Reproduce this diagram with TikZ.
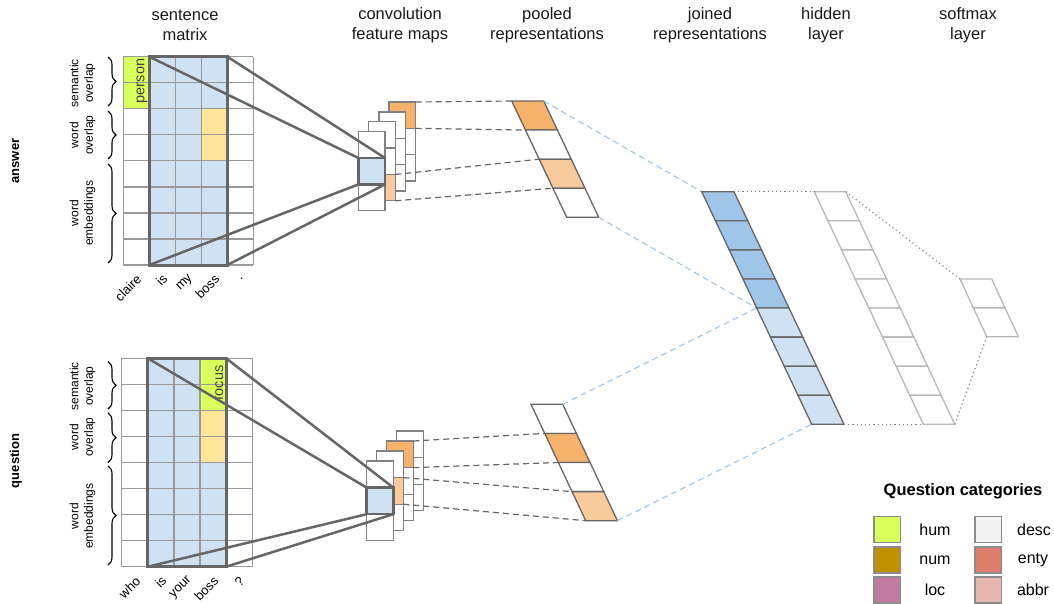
\documentclass[tikz,border=0pt]{standalone}
\usepackage{fontspec}
\setmainfont{Liberation Sans}
\usetikzlibrary{decorations.pathreplacing}

\definecolor{cellblue}{HTML}{CFE2F3}
\definecolor{deepblue}{HTML}{9FC5E8}
\definecolor{darkorange}{HTML}{F6B26B}
\definecolor{lightorange}{HTML}{F9CB9C}
\definecolor{paleyellow}{HTML}{FFE599}
\definecolor{limecell}{HTML}{D9FF5C}
\definecolor{numcol}{HTML}{BF9000}
\definecolor{loccol}{HTML}{C27BA0}
\definecolor{desccol}{HTML}{F3F3F3}
\definecolor{entycol}{HTML}{DD7E6B}
\definecolor{abbrcol}{HTML}{E6B8AF}

% slanted strip of cells: name, x0, y0, width, cell height, shift per cell, fills, style
\newcommand\slantstrip[8]{%
  \foreach \f [count=\i from 0] in {#7} {
    \pgfmathsetmacro\xa{#2+#6*\i}
    \pgfmathsetmacro\ya{#3+#5*\i}
    \path (\xa,\ya) coordinate (#1-\i-tl) ++(#4,0) coordinate (#1-\i-tr)
          ++(#6,#5) coordinate (#1-\i-br) ++(-#4,0) coordinate (#1-\i-bl);
    \draw[#8, fill=\f] (#1-\i-tl) -- (#1-\i-tr) -- (#1-\i-br) -- (#1-\i-bl) -- cycle;
  }}

% one convolution feature map of three cells: name, x, y, cell height, fills
\newcommand\convmap[7]{%
  \foreach \f [count=\i from 0] in {#5,#6,#7} {
    \pgfmathsetmacro\ya{#3+#4*\i}
    \path (#2,\ya) coordinate (#1-\i-tl) ++(26.6,0) coordinate (#1-\i-tr)
          ++(0,#4) coordinate (#1-\i-br) ++(-26.6,0) coordinate (#1-\i-bl);
    \draw[mapbox, fill=\f] (#1-\i-tl) rectangle (#1-\i-br);
  }}

\begin{document}
\begin{tikzpicture}[x=1pt,y=-1pt,
  every node/.style={inner sep=0pt, outer sep=0pt},
  head/.style={font=\fontsize{16.5}{20}\selectfont, align=center, text=black!90},
  sidelabel/.style={font=\fontsize{12}{14.5}\selectfont, align=center, rotate=90},
  rowtitle/.style={font=\bfseries\fontsize{13}{15}\selectfont, rotate=90},
  wordlabel/.style={font=\fontsize{13}{15}\selectfont, rotate=45, anchor=east},
  tagtext/.style={font=\fontsize{14.5}{16}\selectfont, rotate=90, text=black!75},
  cellgrid/.style={draw=black!40, line width=1.2pt},
  mxframe/.style={draw=black!60, line width=3pt},
  feedline/.style={draw=black!60, line width=2.5pt},
  sqframe/.style={draw=black!60, line width=2.5pt},
  mapbox/.style={draw=black!50, line width=1.3pt},
  poolcell/.style={draw=black!60, line width=1.3pt},
  hidcell/.style={draw=black!28, line width=1.3pt},
  pooldash/.style={draw=black!60, line width=1.2pt, dash pattern=on 6pt off 4pt},
  bluedash/.style={draw=deepblue, line width=1.1pt, dash pattern=on 6pt off 4pt},
  dotline/.style={draw=black!50, line width=1.1pt, dash pattern=on 1.2pt off 3pt},
  bracket/.style={draw=black, line width=1.1pt, decorate, decoration={brace, amplitude=8pt}},
  swatch/.style={draw=black!45, line width=1.5pt, minimum width=26.7pt, minimum height=26pt},
  legtext/.style={font=\fontsize{16}{18}\selectfont}]

\useasboundingbox (0,0) rectangle (1054,603);

% ---------- column headings ----------
\node[head] (h1) at (185,25) {sentence\\matrix};
\node[head] (h2) at (400,25) {convolution\\feature maps};
\node[head] (h3) at (547,25) {pooled\\representations};
\node[head] (h4) at (710,25) {joined\\representations};
\node[head] (h5) at (826,25) {hidden\\layer};
\node[head] (h6) at (968,25) {softmax\\layer};

% ---------- answer sentence matrix ----------
\fill[cellblue] (149.3,56.7) rectangle (227.3,265);
\fill[limecell] (123.3,56.7) rectangle (149.3,108.8);
\fill[paleyellow] (201.3,108.8) rectangle (227.3,160.9);
\foreach \k in {0,...,5} \draw[cellgrid] ({123.3+26*\k},56.7) -- ++(0,208.3);
\foreach \k in {0,...,8} \draw[cellgrid] (123.3,{56.7+26.04*\k}) -- ++(130,0);
\draw[mxframe] (149.3,56.7) coordinate (aTL) -- (227.3,56.7) coordinate (aTR)
  -- (227.3,265) coordinate (aBR) -- (149.3,265) coordinate (aBL) -- cycle;
\node[tagtext] (person) at (142,81) {person};

\draw[bracket] (108,57) -- (108,106);
\draw[bracket] (108,111) -- (108,159);
\draw[bracket] (108,164) -- (108,263);
\node[sidelabel] (a1) at (82.5,83) {semantic\\overlap};
\node[sidelabel] (a2) at (82.5,135) {word\\overlap};
\node[sidelabel] (a3) at (82.5,213) {word\\embeddings};
\node[rowtitle] (ans) at (15.7,161) {answer};

\node[wordlabel] (w1) at (139,277) {claire};
\node[wordlabel] (w2) at (165,277) {is};
\node[wordlabel] (w3) at (191,277) {my};
\node[wordlabel] (w4) at (217,277) {boss};
\node[wordlabel] (w5) at (243,277) {.};

% ---------- question sentence matrix ----------
\fill[cellblue] (147.8,358.3) rectangle (226.1,566.7);
\fill[limecell] (200,358.3) rectangle (226.1,410.4);
\fill[paleyellow] (200,410.4) rectangle (226.1,462.5);
\foreach \k in {0,...,5} \draw[cellgrid] ({121.7+26.1*\k},358.3) -- ++(0,208.4);
\foreach \k in {0,...,8} \draw[cellgrid] (121.7,{358.3+26.05*\k}) -- ++(130.5,0);
\draw[mxframe] (147.8,358.3) coordinate (qTL) -- (226.1,358.3) coordinate (qTR)
  -- (226.1,566.7) coordinate (qBR) -- (147.8,566.7) coordinate (qBL) -- cycle;
\node[tagtext] (focus) at (218,383) {focus};

\draw[bracket] (108,361.5) -- (108,409);
\draw[bracket] (108,413) -- (108,462.5);
\draw[bracket] (108,466) -- (108,565);
\node[sidelabel] (b1) at (82.5,386) {semantic\\overlap};
\node[sidelabel] (b2) at (82.5,437) {word\\overlap};
\node[sidelabel] (b3) at (82.5,516) {word\\embeddings};
\node[rowtitle] (qst) at (15.7,461) {question};

\node[wordlabel] (v1) at (138,579) {who};
\node[wordlabel] (v2) at (164,579) {is};
\node[wordlabel] (v3) at (190,579) {your};
\node[wordlabel] (v4) at (216,579) {boss};
\node[wordlabel] (v5) at (242,579) {?};

% ---------- convolution feature maps ----------
\convmap{tm3}{389.1}{102}{26.33}{darkorange}{white}{white}
\convmap{tm2}{378.9}{111.9}{26.33}{white}{white}{white}
\convmap{tm1}{368.7}{121.8}{26.33}{white}{white}{lightorange}
\convmap{tm0}{358.5}{131.7}{26.33}{white}{cellblue}{white}
\draw[sqframe] (tm0-1-tl) rectangle (tm0-1-br);

\convmap{bm3}{396.7}{431}{26.6}{white}{white}{white}
\convmap{bm2}{386.7}{441}{26.6}{darkorange}{white}{white}
\convmap{bm1}{376.7}{451}{26.6}{white}{lightorange}{white}
\convmap{bm0}{366.7}{461}{26.6}{white}{cellblue}{white}
\draw[sqframe] (bm0-1-tl) rectangle (bm0-1-br);

% filter window to feature map
\draw[feedline] (aTL) -- (tm0-1-tl);
\draw[feedline] (aTR) -- (tm0-1-tr);
\draw[feedline] (aBL) -- (tm0-1-bl);
\draw[feedline] (aBR) -- (tm0-1-br);
\draw[feedline] (qTL) -- (bm0-1-tl);
\draw[feedline] (qTR) -- (bm0-1-tr);
\draw[feedline] (qBL) -- (bm0-1-bl);
\draw[feedline] (qBR) -- (bm0-1-br);

% ---------- pooled, joined, hidden and softmax layers ----------
\slantstrip{pt}{511.7}{101}{32}{29.08}{13.75}{darkorange,white,lightorange,white}{poolcell}
\slantstrip{pb}{531}{404.3}{31.7}{29.1}{13.68}{white,darkorange,white,lightorange}{poolcell}

\draw[bluedash] (pt-0-tr) -- (701.7,191.7);
\draw[bluedash] (pt-3-br) -- (756.7,308);
\draw[bluedash] (pb-0-tr) -- (756.7,308);
\draw[bluedash] (pb-3-br) -- (811.7,424.3);

\slantstrip{jn}{701.7}{191.7}{32.3}{29.08}{13.75}{deepblue,deepblue,deepblue,deepblue,cellblue,cellblue,cellblue,cellblue}{poolcell}
\slantstrip{hd}{814.3}{191.7}{31.4}{29.08}{13.63}{white,white,white,white,white,white,white,white}{hidcell}
\slantstrip{sm}{960}{279}{31.7}{28.85}{13.35}{white,white}{hidcell}

% pooling connectors
\draw[pooldash] (tm3-0-tr) -- (pt-0-tl);
\draw[pooldash] (tm3-0-br) -- (pt-1-tl);
\draw[pooldash] (tm1-2-tr) -- (pt-2-tl);
\draw[pooldash] (tm1-2-br) -- (pt-3-tl);
\draw[pooldash] (bm2-0-tr) -- (pb-1-tl);
\draw[pooldash] (bm2-0-br) -- (pb-2-tl);
\draw[pooldash] (bm1-1-tr) -- (pb-3-tl);
\draw[pooldash] (bm1-1-br) -- (pb-3-bl);

% fully connected layers
\draw[dotline] (jn-0-tr) -- (hd-0-tl);
\draw[dotline] (jn-7-br) -- (hd-7-bl);
\draw[dotline] (hd-0-tr) -- (sm-0-tl);
\draw[dotline] (hd-7-br) -- (sm-1-bl);

% ---------- legend ----------
\node[font=\bfseries\fontsize{16.5}{18}\selectfont] (legtitle) at (963,491.7) {Question categories};
\node[swatch, fill=limecell] (s1) at (887.3,529.7) {};
\node[swatch, fill=numcol] (s2) at (887.3,560) {};
\node[swatch, fill=loccol] (s3) at (887.3,590) {};
\node[swatch, fill=desccol] (s4) at (988.3,529.7) {};
\node[swatch, fill=entycol] (s5) at (988.3,560) {};
\node[swatch, fill=abbrcol] (s6) at (988.3,590) {};
\node[legtext] (l1) at (935,529.7) {hum};
\node[legtext] (l2) at (935,560) {num};
\node[legtext] (l3) at (935,590) {loc};
\node[legtext] (l4) at (1034,529.7) {desc};
\node[legtext] (l5) at (1033,560) {enty};
\node[legtext] (l6) at (1033,590) {abbr};
\end{tikzpicture}
\end{document}
